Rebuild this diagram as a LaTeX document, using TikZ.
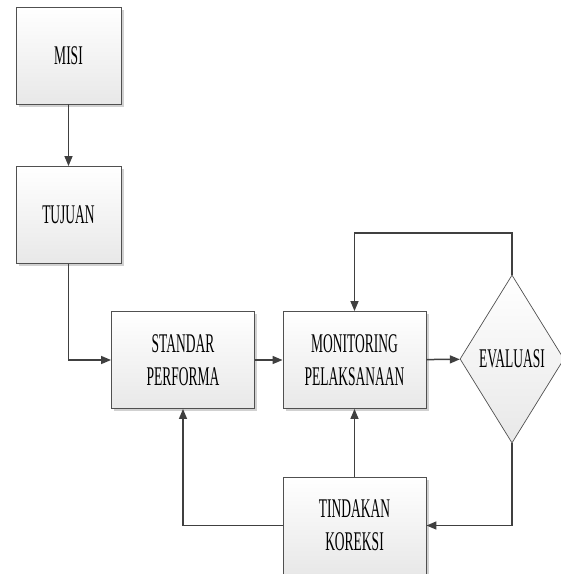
\documentclass[tikz,border=0pt]{standalone}
\usepackage{fontspec}
\setmainfont[FakeStretch=0.5]{Liberation Serif}
\usetikzlibrary{shapes.geometric,shadows,arrows.meta}
\definecolor{edge}{HTML}{404040}
\definecolor{boxline}{HTML}{505050}
\tikzset{
  procbox/.style={draw=boxline, line width=0.9pt, rectangle,
    top color=white, bottom color=black!9,
    drop shadow={shadow xshift=2.5pt, shadow yshift=-2.5pt, fill=black!30, opacity=0.6},
    align=center, font=\fontsize{27}{33}\selectfont, inner sep=0pt},
  decbox/.style={draw=boxline, line width=0.7pt, diamond, aspect=0.62,
    top color=white, bottom color=black!9,
    font=\fontsize{27}{33}\selectfont, inner sep=0pt,
    minimum width=104pt, minimum height=168pt},
  link/.style={draw=edge, line width=1.5pt,
    -{Triangle[length=10pt,width=8pt]}},
}
\begin{document}
\begin{tikzpicture}[x=1pt,y=-1pt]
  \useasboundingbox (0,0) rectangle (561,574);
  \clip (0,0) rectangle (561,574);

  \node[procbox, minimum width=105pt, minimum height=97pt] (misi) at (68.5,55.5) {MISI};
  \node[procbox, minimum width=105pt, minimum height=97pt] (tujuan) at (68.5,215) {TUJUAN};
  \node[procbox, minimum width=143pt, minimum height=97pt] (standar) at (183,360) {STANDAR\\PERFORMA};
  \node[procbox, minimum width=143pt, minimum height=97pt] (monitor) at (354.5,360) {MONITORING\\PELAKSANAAN};
  \node[decbox] (eval) at (512,359) {EVALUASI};
  \node[procbox, minimum width=143pt, minimum height=97pt] (koreksi) at (354.5,525.5) {TINDAKAN\\KOREKSI};

  \coordinate (loopTop) at (512,233);

  \draw[link] (misi) -- (tujuan);
  \draw[link] (tujuan.south) |- (standar.west);
  \draw[link] (standar) -- (monitor);
  \draw[link] (monitor) -- (eval);
  \draw[link] (eval.north) -- (loopTop) -| (monitor.north);
  \draw[link] (eval.south) |- (koreksi.east);
  \draw[link] (koreksi) -- (monitor);
  \draw[link] (koreksi.west) -| (standar.south);
\end{tikzpicture}
\end{document}
